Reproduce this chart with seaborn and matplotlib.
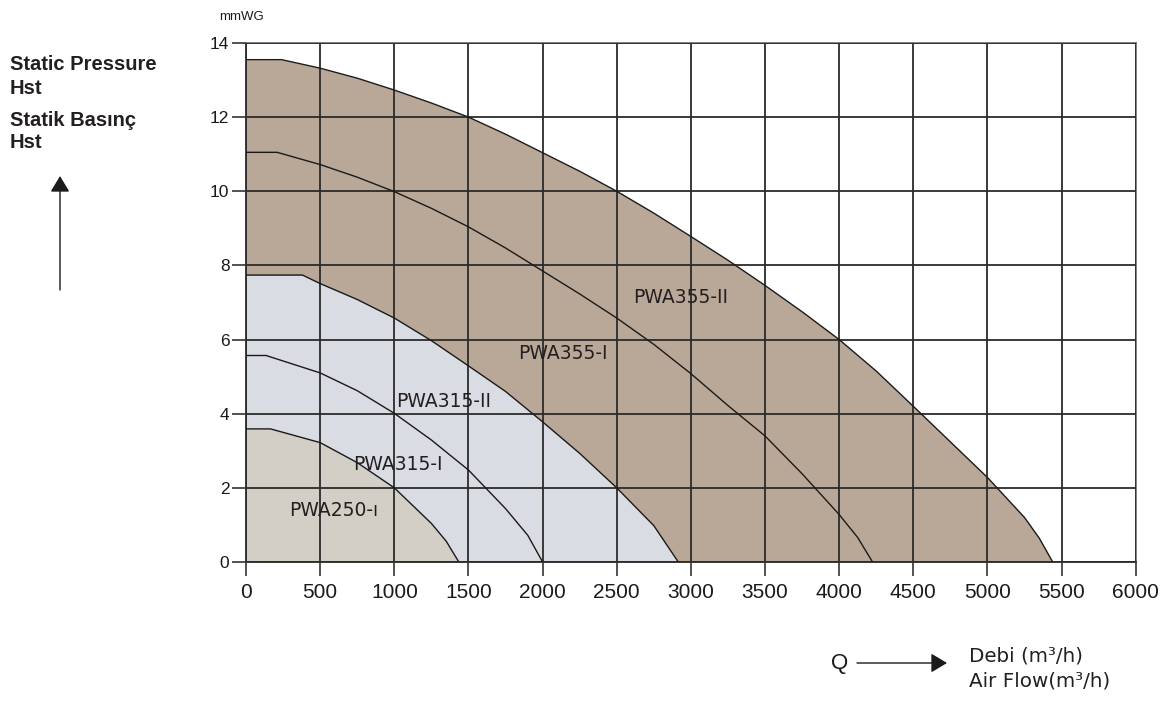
import pandas as pd
import numpy as np
import matplotlib
matplotlib.use("Agg")
import matplotlib.pyplot as plt
import seaborn as sns

# Fan curves (Q in m3/h, Hst in mmWG)
pwa355_2_q = [0, 240, 500, 750, 1000, 1250, 1500, 1750, 2000, 2250, 2500, 2750,
              3000, 3250, 3500, 3750, 4000, 4250, 4500, 4750, 5000, 5250, 5350, 5440]
pwa355_2_h = [13.55, 13.55, 13.32, 13.05, 12.73, 12.38, 12.0, 11.54, 11.04, 10.54, 10.0, 9.41,
              8.78, 8.14, 7.46, 6.75, 6.0, 5.15, 4.2, 3.24, 2.28, 1.2, 0.64, 0.0]

pwa355_1_q = [0, 210, 500, 750, 1000, 1250, 1500, 1750, 2000, 2250, 2500, 2750,
              3000, 3250, 3500, 3750, 4000, 4125, 4225]
pwa355_1_h = [11.05, 11.05, 10.72, 10.38, 9.99, 9.54, 9.04, 8.47, 7.85, 7.23, 6.58, 5.87,
              5.08, 4.22, 3.40, 2.38, 1.28, 0.66, 0.0]

pwa315_2_q = [0, 380, 500, 750, 1000, 1250, 1500, 1750, 2000, 2250, 2500, 2750, 2915]
pwa315_2_h = [7.74, 7.74, 7.51, 7.08, 6.58, 5.97, 5.29, 4.6, 3.78, 2.93, 2.0, 0.98, 0.0]

pwa315_1_q = [0, 135, 500, 750, 1000, 1250, 1500, 1750, 1900, 2000]
pwa315_1_h = [5.57, 5.57, 5.10, 4.62, 4.01, 3.29, 2.48, 1.44, 0.72, 0.0]

pwa250_1_q = [0, 165, 500, 750, 1000, 1250, 1350, 1435]
pwa250_1_h = [3.59, 3.59, 3.22, 2.68, 2.0, 1.04, 0.56, 0.0]

labels = ["PWA355-II", "PWA355-I", "PWA315-II", "PWA315-I", "PWA250-ı"]
label_q = [2933, 2137, 1335, 1025, 593]
label_h = [7.14, 5.62, 4.32, 2.62, 1.38]

x_ticks = list(range(0, 6001, 500))
y_ticks = list(range(0, 15, 2))

sns.set_style("white")
plt.rcParams['font.family'] = ['DejaVu Sans']

fig = plt.figure(figsize=(11.7, 7.01), dpi=100)
ax = fig.add_axes([0.2103, 0.1983, 0.7604, 0.7404])

# filled operating areas, largest first
ax.fill_between(pwa355_2_q, pwa355_2_h, 0, color="#b9a898", lw=0, zorder=1)
ax.fill_between(pwa315_2_q, pwa315_2_h, 0, color="#d9dce3", lw=0, zorder=1)
ax.fill_between(pwa250_1_q, pwa250_1_h, 0, color="#d3cfc6", lw=0, zorder=1)

curves = pd.concat([
    pd.DataFrame({"q": q, "h": h, "fan": name})
    for q, h, name in [(pwa355_2_q, pwa355_2_h, "355-II"), (pwa355_1_q, pwa355_1_h, "355-I"),
                       (pwa315_2_q, pwa315_2_h, "315-II"), (pwa315_1_q, pwa315_1_h, "315-I"),
                       (pwa250_1_q, pwa250_1_h, "250-I")]
])
sns.lineplot(data=curves, x="q", y="h", units="fan", estimator=None, sort=False,
             color="#1a1a1a", lw=1.0, ax=ax, zorder=3)

for txt, q, h in zip(labels, label_q, label_h):
    ax.text(q, h, txt, ha="center", va="center", fontsize=13.5, color="#231f20", zorder=4)

ax.set_xlim(0, 6000)
ax.set_ylim(0, 14)
ax.set_xticks(x_ticks)
ax.set_yticks(y_ticks)
ax.set_xticklabels([str(t) for t in x_ticks], family="Liberation Sans", fontsize=15, color="#1a1a1a")
ax.set_yticklabels([str(t) for t in y_ticks], family="Liberation Sans", fontsize=12.5, color="#1a1a1a")
ax.tick_params(axis="both", direction="out", length=10, width=1.2, color="#333333",
               bottom=True, left=True)
ax.tick_params(axis="y", pad=2)
ax.tick_params(axis="x", pad=5)
ax.grid(True, color="#2b2b2b", lw=1.3, zorder=2)
ax.set_axisbelow(False)
for side in ["left", "bottom"]:
    ax.spines[side].set_color("#2b2b2b")
    ax.spines[side].set_linewidth(1.3)
for side in ["top", "right"]:
    ax.spines[side].set_color("#777777")
    ax.spines[side].set_linewidth(1.3)
ax.set_xlabel("")
ax.set_ylabel("")

# axis captions outside the plot
fig.text(242 / 1170, 1 - 17 / 701, "mmWG", family="Liberation Sans", fontsize=9.5,
         ha="center", va="center", color="#1a1a1a")
left_lines = [("Static Pressure", 64), ("Hst", 88), ("Statik Basınç", 120), ("Hst", 143)]
for txt, py in left_lines:
    fig.text(10 / 1170, 1 - py / 701, txt, family="Liberation Sans", fontweight="bold",
             fontsize=14.5, ha="left", va="center", color="#231f20")
fig.add_artist(matplotlib.patches.FancyArrowPatch(
    (60 / 1170, 1 - 290 / 701), (60 / 1170, 1 - 176 / 701), transform=fig.transFigure,
    arrowstyle="-|>,head_length=0.7,head_width=0.42", mutation_scale=14, lw=1.0, color="#1a1a1a",
    shrinkA=0, shrinkB=0))

fig.text(840 / 1170, 1 - 663 / 701, "Q", family="Liberation Sans", fontsize=16,
         ha="center", va="center", color="#1a1a1a")
fig.add_artist(matplotlib.patches.FancyArrowPatch(
    (857 / 1170, 1 - 663 / 701), (947 / 1170, 1 - 663 / 701), transform=fig.transFigure,
    arrowstyle="-|>,head_length=0.7,head_width=0.42", mutation_scale=14, lw=1.0, color="#1a1a1a",
    shrinkA=0, shrinkB=0))
fig.text(969 / 1170, 1 - 656 / 701, "Debi (m³/h)", fontsize=14.3, ha="left", va="center", color="#231f20")
fig.text(969 / 1170, 1 - 681 / 701, "Air Flow(m³/h)", fontsize=14.3, ha="left", va="center", color="#231f20")

fig.savefig("out.png", dpi=100)
